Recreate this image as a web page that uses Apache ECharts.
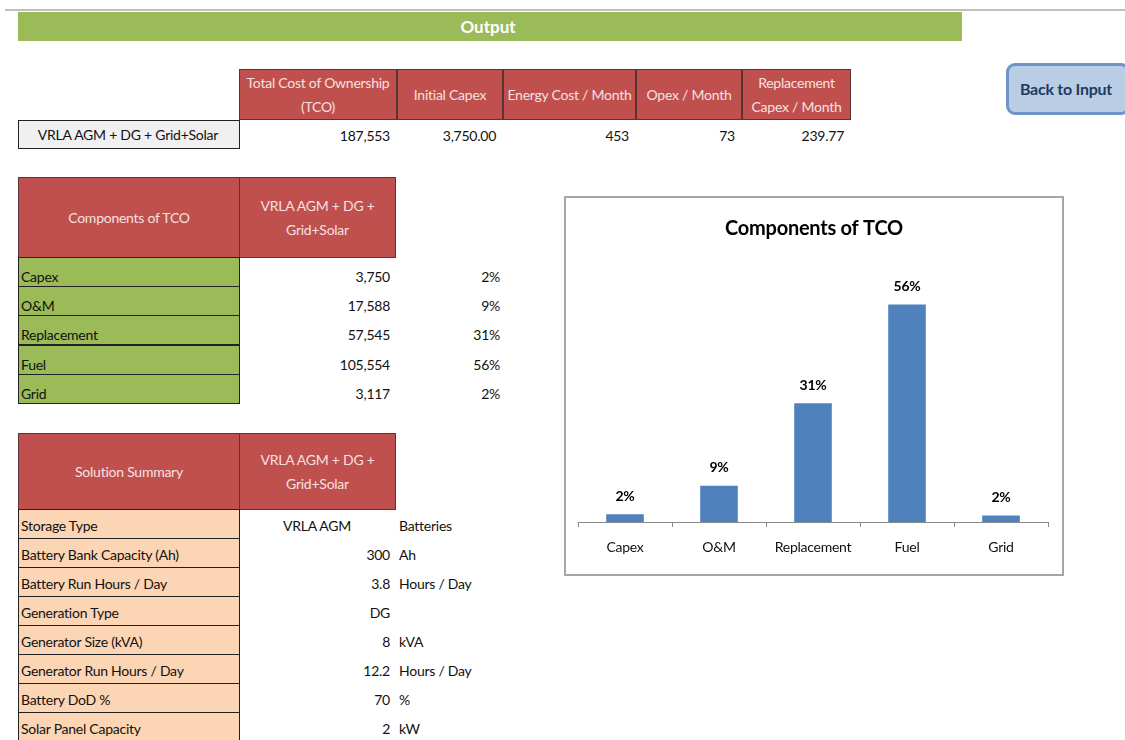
<!DOCTYPE html>
<html>
<head>
<meta charset="utf-8">
<script src="https://cdn.jsdelivr.net/npm/echarts@6/dist/echarts.min.js"></script>
<style>
  html, body { margin: 0; padding: 0; background: #fff; }
  body { width: 1125px; height: 740px; position: relative; overflow: hidden;
         font-family: Lato, "Liberation Sans", sans-serif; font-size: 14px; letter-spacing: -0.25px; color: #111; }
  .abs { position: absolute; box-sizing: border-box; }
  .hdr { background: #c0504d; color: #f5e1e0; display: flex; align-items: center;
         justify-content: center; text-align: center; white-space: pre-line; line-height: 24px;
         border: 1px solid #5a3433; }
  .txt { position: absolute; white-space: nowrap; line-height: 20px; }
  .cell { display: flex; align-items: center; padding-left: 3px; border: 1.5px solid #222; }
</style>
</head>
<body>
<div id="root"></div>
<div id="chartBox" class="abs" style="left:564px;top:196px;width:500px;height:380px;border:2px solid #a6a6a6;">
  <div id="chart" style="width:100%;height:100%;"></div>
</div>
<script>
// ---- data ----
const solutionName = "VRLA AGM + DG + Grid+Solar";
const outputHeaders = ["Total Cost of Ownership\n(TCO)", "Initial Capex", "Energy Cost / Month", "Opex / Month", "Replacement\nCapex / Month"];
const outputValues = [187553, 3750, 453, 73, 239.77];
const outputDecimals = [0, 2, 0, 0, 2];

const components = ["Capex", "O&M", "Replacement", "Fuel", "Grid"];
const componentCosts = [3750, 17588, 57545, 105554, 3117];

const summaryLabels = ["Storage Type", "Battery Bank Capacity (Ah)", "Battery Run Hours / Day", "Generation Type",
  "Generator Size (kVA)", "Generator Run Hours / Day", "Battery DoD %", "Solar Panel Capacity"];
const summaryValues = ["VRLA AGM", "300", "3.8", "DG", "8", "12.2", "70", "2"];
const summaryUnits = ["Batteries", "Ah", "Hours / Day", "", "kVA", "Hours / Day", "%", "kW"];

const tco = outputValues[0];
const componentShares = componentCosts.map(v => v / tco);

function fmt(v, d) {
  return v.toLocaleString("en-US", { minimumFractionDigits: d, maximumFractionDigits: d });
}

// ---- spreadsheet part ----
const root = document.getElementById("root");
function box(cls, x, y, w, h, style, text) {
  const el = document.createElement("div");
  el.className = "abs " + (cls || "");
  el.style.cssText = `left:${x}px;top:${y}px;width:${w}px;height:${h}px;` + (style || "");
  if (text !== undefined) el.textContent = text;
  root.appendChild(el);
  return el;
}
function text(x, y, str, align, style) {
  const el = document.createElement("div");
  el.className = "txt";
  let pos = `top:${y - 10}px;`;
  if (align === "right") pos += `right:${1125 - x}px;`;
  else if (align === "center") pos += `left:${x}px;transform:translateX(-50%);`;
  else pos += `left:${x}px;`;
  el.style.cssText = pos + (style || "");
  el.textContent = str;
  root.appendChild(el);
}

// sheet top rule and banner
box("", 5, 9, 1120, 2, "background:#bfbfbf;");
box("", 18, 12, 944, 29, "background:#9bbb59;");
text(488, 27, "Output", "center", "color:#fff;font-weight:bold;font-size:17px;letter-spacing:0;");

// back to input button
box("", 1006, 63, 124, 52, "background:#b9cde5;border:3px solid #6f93c6;border-radius:9px;");
text(1066, 89, "Back to Input", "center", "color:#1f3a60;font-weight:bold;font-size:16px;");

// output table
const outCols = [239, 397, 503, 636, 742, 851];
outputHeaders.forEach((h, i) => {
  box("hdr", outCols[i], 69, outCols[i + 1] - outCols[i], 51, "", h);
  text(outCols[i + 1] - 7, 136, fmt(outputValues[i], outputDecimals[i]), "right");
});
box("", 18, 120, 222, 29, "background:#f0f0f0;border:1.5px solid #222;");
text(128, 135, solutionName, "center");

// components table
box("hdr", 18, 177, 222, 81, "", "Components of TCO");
box("hdr", 239, 177, 157, 81, "", "VRLA AGM + DG +\nGrid+Solar");
components.forEach((c, i) => {
  const y = 257 + i * 29.2;
  box("cell", 18, y, 222, 30, "background:#9bbb59;");
  text(21, y + 20, c, "left");
  text(390, y + 20, fmt(componentCosts[i], 0), "right");
  text(500, y + 20, Math.round(componentShares[i] * 100) + "%", "right");
});

// solution summary table
box("hdr", 18, 433, 222, 77, "", "Solution Summary");
box("hdr", 239, 433, 157, 77, "", "VRLA AGM + DG +\nGrid+Solar");
summaryLabels.forEach((l, i) => {
  const y = 509 + i * 29;
  box("cell", 18, y, 222, 30, "background:#fcd5b4;");
  text(21, y + 17, l, "left");
  if (i === 0) text(317, y + 17, summaryValues[i], "center");
  else text(390, y + 17, summaryValues[i], "right");
  text(399, y + 17, summaryUnits[i], "left");
});

// ---- chart ----
const chart = echarts.init(document.getElementById("chart"));
chart.setOption({
  animation: false,
  textStyle: { fontFamily: "Lato, 'Liberation Sans', sans-serif" },
  title: {
    text: "Components of TCO",
    left: "center",
    top: 16,
    textStyle: { fontSize: 20, fontWeight: "bold", color: "#000" }
  },
  grid: { left: 12, right: 14, top: 92, bottom: 52 },
  xAxis: {
    type: "category",
    data: components,
    axisLine: { lineStyle: { color: "#888", width: 1 } },
    axisTick: { show: true, length: 5, lineStyle: { color: "#888" } },
    axisLabel: { color: "#111", fontSize: 14, margin: 18, interval: 0 }
  },
  yAxis: {
    type: "value",
    min: 0,
    max: 0.6,
    show: false,
    splitLine: { show: false }
  },
  series: [{
    type: "bar",
    data: componentShares,
    barWidth: "40%",
    itemStyle: { color: "#4f81bd" },
    label: {
      show: true,
      position: "top",
      distance: 11,
      color: "#000",
      fontWeight: "bold",
      fontSize: 14,
      formatter: p => Math.round(p.value * 100) + "%"
    }
  }]
});
</script>
</body>
</html>
